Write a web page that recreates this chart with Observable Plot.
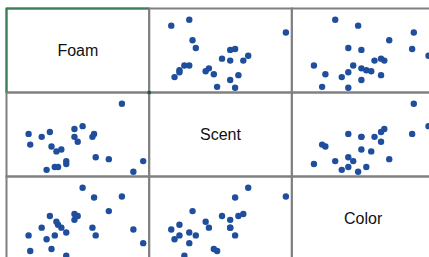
<!DOCTYPE html>
<html>
<head>
<meta charset="utf-8">
<script src="https://cdn.jsdelivr.net/npm/d3@7"></script>
<script src="https://cdn.jsdelivr.net/npm/@observablehq/plot@0.6"></script>
<style>
  html, body { margin: 0; padding: 0; background: #fff; overflow: hidden; }
  #chart { width: 429px; height: 257px; overflow: hidden; }
  #chart svg { max-width: none !important; }
</style>
</head>
<body>
<div id="chart"></div>
<script>
// Variables of the scatterplot matrix (row/column order)
const variables = ["Foam", "Scent", "Color"];

const foam  = [9.0, 8.4, 7.7, 6.9, 6.1, 5.9, 6.0, 5.3, 4.8, 5.0, 4.8, 4.3, 4.3, 3.8, 3.6, 3.1, 3.7, 4.0, 3.4, 3.3, 2.8, 2.1, 2.0];
const scent = [4.1, 3.0, 10.0, 4.3, 4.5, 6.6, 6.9, 7.7, 7.4, 6.1, 6.6, 3.8, 4.1, 3.5, 3.5, 3.2, 5.1, 5.3, 5.6, 7.1, 6.6, 5.8, 6.9];
const color = [3.3, 4.7, 8.1, 6.6, 4.1, 4.9, 8.0, 9.0, 6.3, 6.1, 5.7, 2.0, 4.4, 5.2, 4.1, 3.7, 5.5, 4.9, 2.7, 6.1, 4.9, 2.5, 4.1];

const series = {Foam: foam, Scent: scent, Color: color};

// Each panel rescales its variable to its own extent (0..1)
const scaled = {};
for (const v of variables) {
  const [lo, hi] = d3.extent(series[v]);
  scaled[v] = series[v].map(d => (d - lo) / (hi - lo));
}

// Long table for the off-diagonal panels: column variable on x, row variable on y
const cells = [];
for (const row of variables) {
  for (const col of variables) {
    if (row === col) continue;
    for (let i = 0; i < foam.length; i++) {
      cells.push({row, col, x: scaled[col][i], y: scaled[row][i]});
    }
  }
}

const xDomain = [-0.1928, 1.0521];
const yDomain = [-0.0691, 1.1662];
const selected = ["Foam"];

const chart = Plot.plot({
  width: 434,
  height: 260,
  marginLeft: 6,
  marginTop: 8,
  marginRight: 0,
  marginBottom: 0,
  fx: {domain: variables, axis: null, padding: 0, round: false},
  fy: {domain: variables, axis: null, padding: 0, round: false},
  x: {domain: xDomain, axis: null},
  y: {domain: yDomain, axis: null},
  style: {background: "white", fontFamily: "'Liberation Sans', Arial, sans-serif", overflow: "visible", maxWidth: "none"},
  marks: [
    Plot.dot(cells, {x: "x", y: "y", fx: "col", fy: "row", r: 3.2, fill: "#1f4e9c", stroke: "none"}),
    Plot.frame({stroke: "#808080", strokeWidth: 2}),
    Plot.text(variables, {fx: d => d, fy: d => d, text: d => d, frameAnchor: "middle", fontSize: 16, fill: "#111"}),
    Plot.ruleX(selected, {x: () => xDomain[0], fx: d => d, fy: d => d, stroke: "#3d7f55", strokeWidth: 2}),
    Plot.ruleY(selected, {y: () => yDomain[1], fx: d => d, fy: d => d, stroke: "#3d7f55", strokeWidth: 2}),
    Plot.dot(selected, {x: () => xDomain[1], y: () => yDomain[0], fx: d => d, fy: d => d, symbol: "square", r: 1.8, fill: "#1e5b35"})
  ]
});
document.getElementById("chart").appendChild(chart);
</script>
</body>
</html>
